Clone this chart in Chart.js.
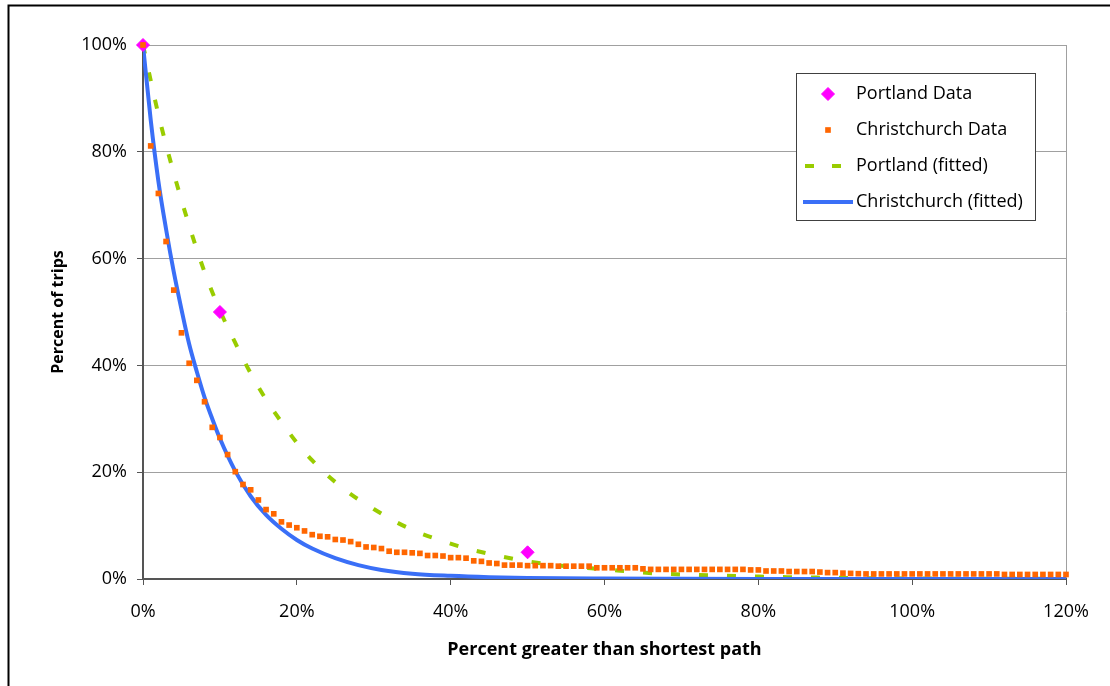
<!DOCTYPE html>
<html>
<head>
<meta charset="utf-8">
<script src="https://cdn.jsdelivr.net/npm/chart.js@4"></script>
<style>
  body { margin: 0; background: #fff; }
</style>
</head>
<body>
<canvas id="detourChart" width="1110" height="686"></canvas>
<script>
// data (percent values)
const christchurchX = [
  0, 1, 2, 3, 4, 5, 6, 7, 8, 9,
  10, 11, 12, 13, 14, 15, 16, 17, 18, 19,
  20, 21, 22, 23, 24, 25, 26, 27, 28, 29,
  30, 31, 32, 33, 34, 35, 36, 37, 38, 39,
  40, 41, 42, 43, 44, 45, 46, 47, 48, 49,
  50, 51, 52, 53, 54, 55, 56, 57, 58, 59,
  60, 61, 62, 63, 64, 65, 66, 67, 68, 69,
  70, 71, 72, 73, 74, 75, 76, 77, 78, 79,
  80, 81, 82, 83, 84, 85, 86, 87, 88, 89,
  90, 91, 92, 93, 94, 95, 96, 97, 98, 99,
  100, 101, 102, 103, 104, 105, 106, 107, 108, 109,
  110, 111, 112, 113, 114, 115, 116, 117, 118, 119,
  120
];
const christchurchY = [
  100, 81.1, 72.2, 63.2, 54.1, 46.1, 40.4, 37.2, 33.2, 28.4,
  26.5, 23.3, 20.1, 17.7, 16.7, 14.8, 13.0, 12.2, 10.7, 10.1,
  9.6, 9.0, 8.3, 8.0, 7.9, 7.4, 7.3, 7.0, 6.5, 6.0,
  5.9, 5.7, 5.2, 5.0, 5.0, 4.9, 4.8, 4.4, 4.4, 4.3,
  4.0, 4.0, 3.9, 3.4, 3.3, 3.0, 2.9, 2.6, 2.6, 2.6,
  2.5, 2.5, 2.5, 2.5, 2.4, 2.4, 2.4, 2.4, 2.4, 2.1,
  2.1, 2.1, 2.1, 2.1, 2.1, 1.9, 1.8, 1.8, 1.8, 1.8,
  1.8, 1.8, 1.8, 1.8, 1.8, 1.8, 1.8, 1.8, 1.8, 1.7,
  1.7, 1.5, 1.5, 1.5, 1.4, 1.4, 1.4, 1.4, 1.3, 1.2,
  1.2, 1.1, 1.05, 1.0, 0.95, 0.95, 0.95, 0.95, 0.95, 0.95,
  0.95, 0.95, 0.95, 0.95, 0.95, 0.95, 0.95, 0.95, 0.95, 0.95,
  0.95, 0.95, 0.85, 0.85, 0.85, 0.85, 0.85, 0.85, 0.85, 0.85,
  0.85
];

const portlandX = [0, 10, 50];
const portlandY = [100, 50, 5];

const portlandFitX = [0, 2, 4, 6, 8, 10, 12, 14, 16, 18, 20, 22, 24, 27, 30, 33, 36, 39, 42, 46, 50, 55, 60, 65, 70, 80, 90, 100, 110, 120];
const portlandFitY = [100, 87, 76, 66.2, 57.5, 50.3, 44.2, 38.5, 33.6, 29.4, 25.5, 22.2, 19.4, 15.9, 13.1, 10.6, 8.6, 7.1, 5.75, 4.4, 3.3, 2.4, 1.8, 1.2, 0.85, 0.45, 0.22, 0.1, 0.05, 0.03];

const christchurchFitX = [0, 1, 2, 3, 4, 5, 6, 7, 8, 9, 10, 12, 14, 16, 18, 20, 22, 25, 28, 31, 35, 40, 45, 50, 60, 70, 80, 100, 120];
const christchurchFitY = [100, 86, 74.5, 65.5, 57.5, 50.5, 44, 38.8, 34, 30, 26.3, 20.2, 15.5, 12, 9.4, 7.3, 5.7, 3.9, 2.6, 1.7, 1.0, 0.6, 0.35, 0.2, 0.08, 0.03, 0.01, 0, 0];

const xTicks = [0, 20, 40, 60, 80, 100, 120];
const yTicks = [0, 20, 40, 60, 80, 100];

function toPoints(xs, ys) {
  return xs.map((x, i) => ({ x: x, y: ys[i] }));
}

const FONT = "'Open Sans', sans-serif";

// outer black frame
const framePlugin = {
  id: 'frame',
  afterDraw(chart) {
    const ctx = chart.ctx;
    ctx.save();
    ctx.strokeStyle = '#000';
    ctx.lineWidth = 2;
    ctx.strokeRect(8.5, 5.5, 1200, 1000);
    ctx.restore();
  }
};

// legend in a bordered box, like the original
const boxLegend = {
  id: 'boxLegend',
  afterDraw(chart) {
    const ctx = chart.ctx;
    const rows = [94, 130, 166, 202];
    ctx.save();
    ctx.fillStyle = '#fff';
    ctx.fillRect(796, 73, 239, 147);
    ctx.strokeStyle = '#404040';
    ctx.lineWidth = 1;
    ctx.strokeRect(796.5, 73.5, 239, 147);

    chart.data.datasets.forEach((ds, i) => {
      const y = rows[i];
      if (ds.showLine === false) {
        ctx.fillStyle = ds.backgroundColor;
        ctx.strokeStyle = ds.borderColor;
        ctx.lineWidth = ds.pointBorderWidth;
        Chart.helpers.drawPoint(ctx, {
          pointStyle: ds.pointStyle,
          radius: ds.pointRadius,
          borderWidth: ds.pointBorderWidth,
          rotation: 0
        }, 828, y);
      } else {
        ctx.strokeStyle = ds.borderColor;
        ctx.lineWidth = ds.borderWidth;
        ctx.lineCap = 'butt';
        ctx.beginPath();
        if (ds.borderDash) {
          ctx.moveTo(805, y);
          ctx.lineTo(814, y);
          ctx.moveTo(832, y);
          ctx.lineTo(841, y);
        } else {
          ctx.moveTo(803, y);
          ctx.lineTo(853, y);
        }
        ctx.stroke();
      }
      ctx.fillStyle = '#000';
      ctx.font = '18px ' + FONT;
      ctx.textBaseline = 'middle';
      ctx.textAlign = 'left';
      ctx.fillText(ds.label, 856, y);
    });
    ctx.restore();
  }
};

new Chart(document.getElementById('detourChart'), {
  type: 'scatter',
  data: {
    datasets: [
      {
        label: 'Portland Data',
        data: toPoints(portlandX, portlandY),
        showLine: false,
        pointStyle: 'rectRot',
        pointRadius: 6.5,
        pointBorderWidth: 1,
        backgroundColor: '#ff00ff',
        borderColor: '#ff00ff',
        clip: false,
        order: 1
      },
      {
        label: 'Christchurch Data',
        data: toPoints(christchurchX, christchurchY),
        showLine: false,
        pointStyle: 'rect',
        pointRadius: 4,
        pointBorderWidth: 0,
        backgroundColor: '#ff6600',
        borderColor: '#ff6600',
        clip: false,
        order: 0
      },
      {
        label: 'Portland (fitted)',
        data: toPoints(portlandFitX, portlandFitY),
        showLine: true,
        pointRadius: 0,
        borderColor: '#99cc00',
        borderWidth: 4,
        borderDash: [9, 19],
        cubicInterpolationMode: 'monotone',
        order: 3
      },
      {
        label: 'Christchurch (fitted)',
        data: toPoints(christchurchFitX, christchurchFitY),
        showLine: true,
        pointRadius: 0,
        borderColor: '#3a6ff7',
        borderWidth: 4,
        cubicInterpolationMode: 'monotone',
        order: 2
      }
    ]
  },
  options: {
    responsive: false,
    animation: false,
    layout: { padding: { left: 0, right: 44, top: 45, bottom: 0 } },
    plugins: {
      legend: { display: false },
      tooltip: { enabled: false }
    },
    scales: {
      x: {
        type: 'linear',
        min: 0,
        max: 120,
        afterFit(scale) { scale.height = 107; },
        afterBuildTicks(scale) { scale.ticks = xTicks.map(v => ({ value: v })); },
        ticks: {
          autoSkip: false,
          maxRotation: 0,
          padding: 16,
          color: '#000',
          font: { family: FONT, size: 18 },
          callback: v => v + '%'
        },
        grid: {
          color: ctx => (ctx.tick && ctx.tick.value === 120) ? '#a0a0a0' : 'rgba(0,0,0,0)',
          tickColor: '#555',
          tickLength: 6,
          lineWidth: 1
        },
        border: { color: '#555', width: 2 },
        title: {
          display: true,
          text: 'Percent greater than shortest path',
          color: '#000',
          font: { family: FONT, size: 18, weight: 'bold' },
          padding: { top: 0, bottom: 25 }
        }
      },
      y: {
        min: 0,
        max: 100,
        afterFit(scale) { scale.width = 143; },
        afterBuildTicks(scale) { scale.ticks = yTicks.map(v => ({ value: v })); },
        ticks: {
          padding: 10,
          color: '#000',
          font: { family: FONT, size: 18 },
          callback: v => v + '%'
        },
        grid: {
          color: '#a0a0a0',
          tickColor: '#555',
          tickLength: 6,
          lineWidth: 1
        },
        border: { color: '#555', width: 2 },
        title: {
          display: true,
          text: 'Percent of trips',
          color: '#000',
          font: { family: FONT, size: 16, weight: 'bold' },
          padding: { top: 49, bottom: 0 }
        }
      }
    }
  },
  plugins: [boxLegend, framePlugin]
});
</script>
</body>
</html>
